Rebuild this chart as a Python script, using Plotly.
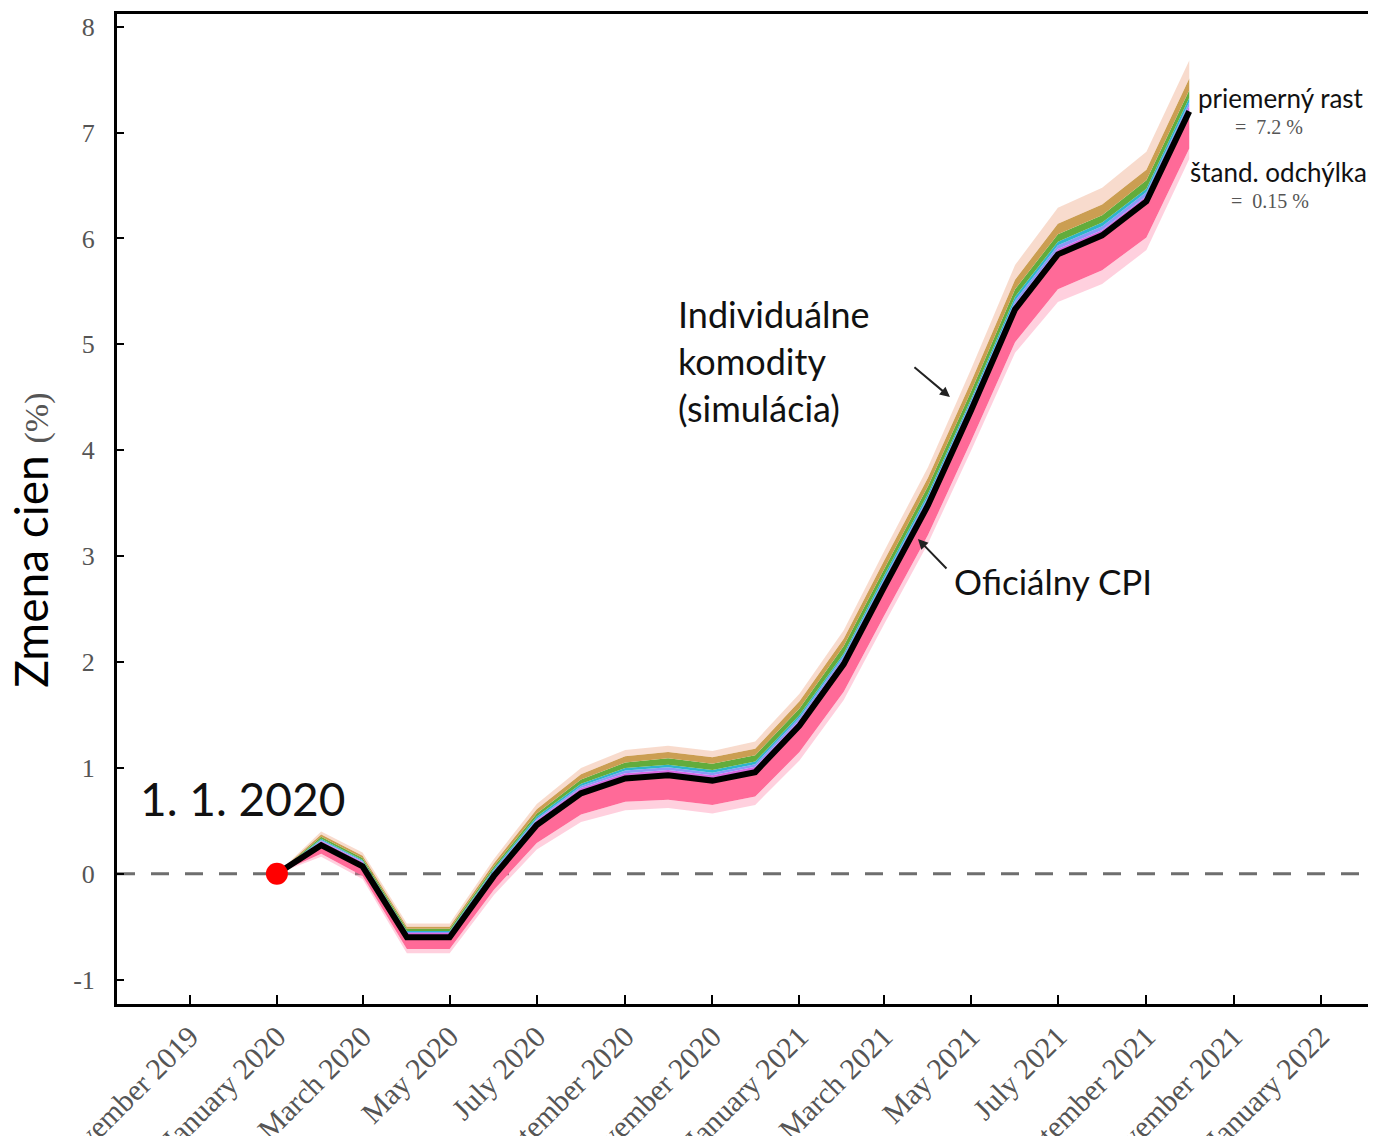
import plotly.graph_objects as go

# ---------------- data ----------------
months = ["2020-01-01", "2020-02-01", "2020-03-01", "2020-04-01", "2020-05-01", "2020-06-01",
          "2020-07-01", "2020-08-01", "2020-09-01", "2020-10-01", "2020-11-01", "2020-12-01",
          "2021-01-01", "2021-02-01", "2021-03-01", "2021-04-01", "2021-05-01", "2021-06-01",
          "2021-07-01", "2021-08-01", "2021-09-01", "2021-10-01"]

# official CPI, cumulative change since 1.1.2020 (%)
cpi = [0.00, 0.27, 0.07, -0.60, -0.60, -0.02, 0.46, 0.76, 0.90, 0.93, 0.88, 0.96,
       1.40, 1.98, 2.70, 3.48, 4.37, 5.33, 5.85, 6.03, 6.35, 7.20]

# simulated commodity paths: band edges read as distance from the CPI line (pp)
off_pink_faint = [0, -.11, -.12, -.15, -.15, -.18, -.23, -.27, -.30, -.31, -.31, -.31,
                  -.33, -.34, -.35, -.36, -.38, -.41, -.45, -.46, -.46, -.45]
off_pink_solid = [0, -.08, -.09, -.11, -.11, -.13, -.17, -.20, -.22, -.23, -.23, -.23,
                  -.25, -.26, -.27, -.28, -.29, -.31, -.33, -.33, -.34, -.35]
off_purple = [0, .040, .040, .040, .040, .040, .045, .050, .050, .050, .050, .050,
              .050, .050, .050, .050, .050, .050, .050, .050, .050, .050]
off_blue = [0, .050, .050, .050, .050, .055, .060, .070, .075, .075, .075, .075,
            .075, .080, .080, .080, .085, .085, .085, .085, .090, .090]
off_teal = [0, .06, .06, .06, .06, .07, .08, .09, .10, .10, .10, .10,
            .10, .10, .11, .11, .11, .12, .12, .12, .12, .13]
off_green = [0, .08, .08, .08, .08, .09, .11, .13, .15, .16, .16, .16,
             .16, .17, .17, .18, .18, .19, .19, .19, .20, .20]
off_tan = [0, .10, .10, .10, .10, .12, .15, .18, .21, .22, .22, .22,
           .23, .24, .25, .26, .27, .28, .29, .29, .30, .31]
off_peach = [0, .13, .13, .13, .13, .16, .20, .24, .27, .28, .28, .29,
             .30, .32, .34, .36, .39, .42, .44, .45, .47, .48]

start_date = ["2020-01-01"]
start_value = [0]

xtick_vals = ["2019-11-01", "2020-01-01", "2020-03-01", "2020-05-01", "2020-07-01", "2020-09-01",
              "2020-11-01", "2021-01-01", "2021-03-01", "2021-05-01", "2021-07-01", "2021-09-01",
              "2021-11-01", "2022-01-01"]
xtick_text = ["November 2019", "January 2020", "March 2020", "May 2020", "July 2020",
              "September 2020", "November 2020", "January 2021", "March 2021", "May 2021",
              "July 2021", "September 2021", "November 2021", "January 2022"]
ytick_vals = [-1, 0, 1, 2, 3, 4, 5, 6, 7, 8]
ytick_text = ["-1", "0", "1", "2", "3", "4", "5", "6", "7", "8"]

# ---------------- figure ----------------
fig = go.Figure()

def band(offsets):
    return [c + o for c, o in zip(cpi, offsets)]

layers = [
    (off_pink_faint, None, None),
    (off_pink_solid, "tonexty", "rgba(255,120,160,0.35)"),
    ([0] * len(cpi), "tonexty", "#FF6A98"),
    (off_purple, "tonexty", "#D86BE4"),
    (off_blue, "tonexty", "#8A98F8"),
    (off_teal, "tonexty", "#2DB4CC"),
    (off_green, "tonexty", "#62AC3C"),
    (off_tan, "tonexty", "#CB9E52"),
    (off_peach, "tonexty", "rgba(240,175,145,0.45)"),
]
for offs, fill, color in layers:
    fig.add_trace(go.Scatter(
        x=months, y=band(offs), mode="lines",
        line=dict(width=0, color="rgba(0,0,0,0)"),
        fill=fill, fillcolor=color, hoverinfo="skip", showlegend=False))

fig.add_trace(go.Scatter(x=months, y=cpi, mode="lines",
                         line=dict(color="black", width=6), showlegend=False))
fig.add_trace(go.Scatter(x=start_date, y=start_value, mode="markers",
                         marker=dict(color="#FF0000", size=22), showlegend=False))

fig.add_shape(type="line", xref="paper", x0=0, x1=1, yref="y", y0=0, y1=0,
              line=dict(color="#6E6E6E", width=3, dash="18px,16px"), layer="below")

sans = "Lato"
serif = "Liberation Serif"

def ann(text, x, y, size, xanchor="left", yanchor="middle", font=sans, color="#111", align="left",
        angle=0):
    fig.add_annotation(text=text, xref="paper", yref="paper", x=x, y=y, showarrow=False,
                       xanchor=xanchor, yanchor=yanchor, align=align, textangle=angle,
                       font=dict(family=font, size=size, color=color))

# y-axis title
ann("Zmena cien <span style='font-family:Liberation Serif;font-size:34px;color:#555'>(%)</span>",
    -0.0685, 0.468, 46, xanchor="center", yanchor="middle", color="black", angle=-90)

ann("1. 1. 2020", 0.0167, 0.208, 46)
ann("Individuálne<br>komodity<br>(simulácia)", 0.4454, 0.721, 36, yanchor="top")
ann("Oficiálny CPI", 0.6653, 0.4273, 35)
ann("priemerný rast", 0.8598, 0.9152, 26)
ann("=  7.2 %", 0.9179, 0.8859, 20, xanchor="center", font=serif, color="#555")
ann("štand. odchýlka", 0.8534, 0.8404, 26)
ann("=  0.15 %", 0.9187, 0.8111, 20, xanchor="center", font=serif, color="#555")

for hx, hy, tx, ty in [(0.6637, 0.6131, -37, -31), (0.6382, 0.4697, 30, 31)]:
    fig.add_annotation(text="", xref="paper", yref="paper", x=hx, y=hy, ax=tx, ay=ty,
                       showarrow=True, arrowhead=2, arrowsize=1, arrowwidth=2,
                       arrowcolor="#222", standoff=0, startstandoff=0)

fig.update_layout(
    width=1368, height=1128,
    margin=dict(l=109, r=4, t=6, b=132, autoexpand=False),
    paper_bgcolor="white", plot_bgcolor="white",
    showlegend=False,
)
fig.update_xaxes(
    type="date", range=["2019-09-11", "2022-02-06"], automargin=False,
    tickvals=xtick_vals, ticktext=xtick_text, tickangle=-45,
    tickfont=dict(family=serif, size=30, color="#555"),
    ticks="inside", ticklen=9, tickwidth=2, tickcolor="black",
    showline=True, linewidth=3, linecolor="black", mirror=True,
    showgrid=False, zeroline=False,
)
fig.update_yaxes(
    range=[-1.23, 8.12], tickvals=ytick_vals, ticktext=ytick_text, automargin=False,
    tickfont=dict(family=serif, size=26, color="#555"),
    ticks="inside", ticklen=7, tickwidth=2, tickcolor="black",
    ticklabelstandoff=14,
    showline=True, linewidth=3, linecolor="black", mirror=True,
    showgrid=False, zeroline=False,
)

fig.write_html("out.html")
